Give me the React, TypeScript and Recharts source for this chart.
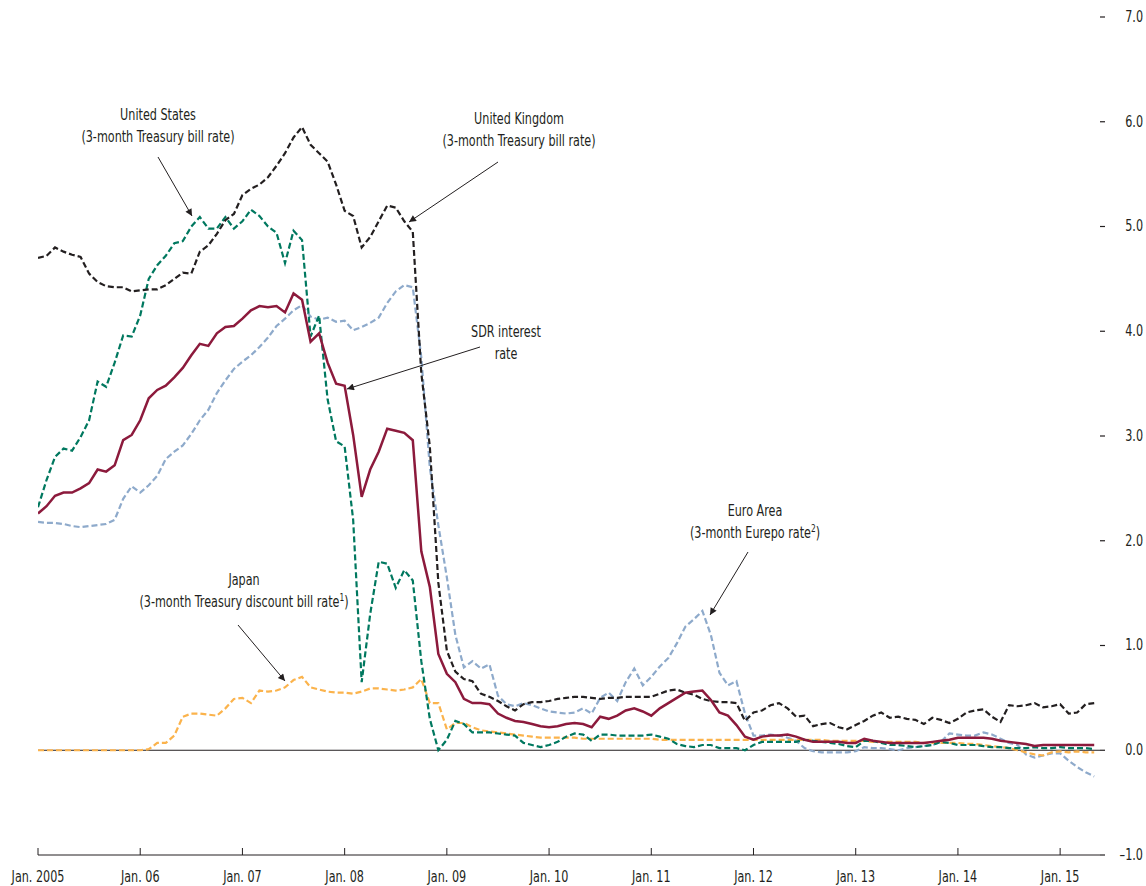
import React from 'react'
import { LineChart, Line, XAxis, YAxis, ReferenceLine } from 'recharts'

const FONT = "'DejaVu Sans Condensed', 'DejaVu Sans', sans-serif"
const INK = '#231f20'
const SQUEEZE = 0.83
const DASH = '6 3'

const YEAR_TICKS = [2005, 2006, 2007, 2008, 2009, 2010, 2011, 2012, 2013, 2014, 2015]
const YEAR_LABELS = ['Jan. 2005', 'Jan. 06', 'Jan. 07', 'Jan. 08', 'Jan. 09', 'Jan. 10', 'Jan. 11', 'Jan. 12', 'Jan. 13', 'Jan. 14', 'Jan. 15']
const RATE_TICKS = [-1, 0, 1, 2, 3, 4, 5, 6, 7]
const RATE_LABELS = ['–1.0', '0.0', '1.0', '2.0', '3.0', '4.0', '5.0', '6.0', '7.0']

// monthly values, Jan. 2005 – May 2015, percent
const unitedKingdom = [
  4.70, 4.72, 4.80, 4.76, 4.73, 4.71, 4.55, 4.47, 4.43, 4.42, 4.42, 4.38,
  4.39, 4.40, 4.40, 4.44, 4.50, 4.56, 4.55, 4.76, 4.82, 4.93, 5.06, 5.12,
  5.30, 5.36, 5.40, 5.47, 5.58, 5.70, 5.85, 5.95, 5.78, 5.70, 5.62, 5.40,
  5.15, 5.10, 4.80, 4.90, 5.05, 5.20, 5.18, 5.05, 4.95, 3.60, 2.90, 1.60,
  0.95, 0.75, 0.68, 0.66, 0.54, 0.51, 0.47, 0.42, 0.38, 0.44, 0.46, 0.46,
  0.47, 0.49, 0.50, 0.51, 0.51, 0.50, 0.49, 0.50, 0.50, 0.51, 0.51, 0.51,
  0.51, 0.54, 0.57, 0.58, 0.55, 0.53, 0.49, 0.47, 0.46, 0.46, 0.45, 0.28,
  0.36, 0.38, 0.43, 0.45, 0.40, 0.32, 0.33, 0.23, 0.25, 0.26, 0.22, 0.20,
  0.24, 0.28, 0.33, 0.36, 0.31, 0.32, 0.30, 0.29, 0.25, 0.31, 0.29, 0.26,
  0.30, 0.36, 0.38, 0.39, 0.32, 0.27, 0.43, 0.42, 0.43, 0.45, 0.41, 0.42,
  0.44, 0.35, 0.36, 0.44, 0.45,
]

const unitedStates = [
  2.32, 2.58, 2.80, 2.88, 2.86, 2.99, 3.15, 3.52, 3.47, 3.70, 3.96, 3.95,
  4.15, 4.50, 4.63, 4.72, 4.84, 4.86, 5.00, 5.09, 4.98, 4.98, 5.09, 4.98,
  5.05, 5.16, 5.10, 5.00, 4.94, 4.65, 4.96, 4.87, 3.95, 4.15, 3.35, 2.95,
  2.90, 2.20, 0.65, 1.30, 1.80, 1.78, 1.55, 1.72, 1.62, 0.85, 0.30, 0.00,
  0.10, 0.28, 0.25, 0.17, 0.17, 0.17, 0.16, 0.15, 0.14, 0.07, 0.05, 0.03,
  0.05, 0.08, 0.13, 0.16, 0.15, 0.09, 0.15, 0.15, 0.14, 0.14, 0.14, 0.14,
  0.15, 0.13, 0.11, 0.06, 0.04, 0.03, 0.05, 0.05, 0.02, 0.02, 0.02, 0.00,
  0.05, 0.08, 0.08, 0.08, 0.08, 0.08, 0.10, 0.09, 0.08, 0.07, 0.06, 0.04,
  0.03, 0.09, 0.09, 0.07, 0.05, 0.05, 0.04, 0.03, 0.04, 0.05, 0.08, 0.07,
  0.05, 0.05, 0.05, 0.04, 0.03, 0.03, 0.02, 0.02, 0.02, 0.03, 0.02, 0.02,
  0.03, 0.02, 0.02, 0.02, 0.01,
]

const sdrRate = [
  2.26, 2.33, 2.43, 2.46, 2.46, 2.50, 2.55, 2.68, 2.66, 2.72, 2.96, 3.01,
  3.15, 3.36, 3.44, 3.48, 3.56, 3.65, 3.77, 3.88, 3.86, 3.98, 4.04, 4.05,
  4.12, 4.20, 4.24, 4.23, 4.24, 4.18, 4.36, 4.30, 3.90, 3.98, 3.70, 3.50,
  3.48, 3.01, 2.42, 2.68, 2.85, 3.07, 3.05, 3.03, 2.96, 1.90, 1.56, 0.92,
  0.73, 0.65, 0.49, 0.45, 0.45, 0.44, 0.35, 0.31, 0.28, 0.27, 0.25, 0.23,
  0.22, 0.23, 0.25, 0.26, 0.25, 0.22, 0.32, 0.30, 0.33, 0.38, 0.40, 0.37,
  0.33, 0.40, 0.45, 0.50, 0.55, 0.56, 0.57, 0.48, 0.36, 0.33, 0.24, 0.13,
  0.10, 0.13, 0.14, 0.14, 0.15, 0.13, 0.10, 0.08, 0.08, 0.08, 0.08, 0.07,
  0.07, 0.11, 0.09, 0.08, 0.07, 0.07, 0.07, 0.07, 0.07, 0.08, 0.09, 0.10,
  0.12, 0.12, 0.12, 0.12, 0.11, 0.09, 0.08, 0.07, 0.06, 0.04, 0.05, 0.05,
  0.05, 0.05, 0.05, 0.05, 0.05,
]

const euroArea = [
  2.18, 2.17, 2.17, 2.16, 2.14, 2.13, 2.14, 2.15, 2.16, 2.20, 2.40, 2.52,
  2.46, 2.53, 2.62, 2.78, 2.85, 2.91, 3.02, 3.15, 3.25, 3.41, 3.53, 3.64,
  3.71, 3.77, 3.85, 3.94, 4.05, 4.12, 4.20, 4.25, 4.14, 4.11, 4.13, 4.09,
  4.10, 4.01, 4.04, 4.08, 4.13, 4.27, 4.38, 4.44, 4.42, 3.75, 2.70, 2.15,
  1.65, 1.10, 0.79, 0.85, 0.78, 0.82, 0.52, 0.44, 0.42, 0.45, 0.43, 0.40,
  0.37, 0.36, 0.35, 0.36, 0.40, 0.35, 0.50, 0.55, 0.47, 0.65, 0.78, 0.62,
  0.70, 0.80, 0.88, 1.02, 1.18, 1.25, 1.33, 1.10, 0.74, 0.62, 0.66, 0.35,
  0.14, 0.14, 0.15, 0.14, 0.12, 0.09, 0.02, -0.01, -0.02, -0.02, -0.02, -0.02,
  -0.01, 0.03, 0.02, 0.02, 0.01, 0.00, 0.02, 0.03, 0.04, 0.05, 0.08, 0.16,
  0.15, 0.14, 0.14, 0.17, 0.15, 0.11, 0.07, 0.05, -0.04, -0.07, -0.05, -0.03,
  -0.03, -0.10, -0.16, -0.21, -0.25,
]

const japan = [
  0.00, 0.00, 0.00, 0.00, 0.00, 0.00, 0.00, 0.00, 0.00, 0.00, 0.00, 0.00,
  0.00, 0.01, 0.07, 0.07, 0.14, 0.32, 0.35, 0.35, 0.34, 0.33, 0.40, 0.49,
  0.50, 0.45, 0.57, 0.56, 0.57, 0.60, 0.67, 0.70, 0.60, 0.58, 0.56, 0.55,
  0.55, 0.54, 0.56, 0.59, 0.59, 0.58, 0.57, 0.58, 0.60, 0.68, 0.45, 0.45,
  0.20, 0.26, 0.26, 0.22, 0.19, 0.18, 0.17, 0.16, 0.15, 0.14, 0.13, 0.12,
  0.12, 0.12, 0.12, 0.12, 0.11, 0.11, 0.11, 0.11, 0.11, 0.11, 0.11, 0.11,
  0.11, 0.10, 0.10, 0.10, 0.10, 0.10, 0.10, 0.10, 0.10, 0.10, 0.10, 0.10,
  0.10, 0.10, 0.10, 0.10, 0.10, 0.10, 0.10, 0.10, 0.10, 0.09, 0.09, 0.09,
  0.09, 0.09, 0.08, 0.08, 0.08, 0.08, 0.08, 0.08, 0.07, 0.07, 0.07, 0.07,
  0.07, 0.06, 0.06, 0.05, 0.04, 0.03, 0.02, 0.00, -0.02, -0.04, -0.05, -0.02,
  -0.01, -0.02, -0.01, -0.02, -0.02,
]

const data = unitedKingdom.map((_, i) => ({
  t: 2005 + i / 12,
  uk: unitedKingdom[i],
  us: unitedStates[i],
  sdr: sdrRate[i],
  euro: euroArea[i],
  japan: japan[i],
}))

// narrow the condensed font around a given x so it reads like the original
const squeeze = (x: number) => `translate(${x},0) scale(${SQUEEZE},1) translate(${-x},0)`

const XTick = ({ x, y, payload }: any) => {
  const i = YEAR_TICKS.indexOf(payload.value)
  return (
    <g>
      <line x1={x} x2={x} y1={y - 7} y2={y} stroke={INK} strokeWidth={1} />
      <text x={x} y={y + 27} transform={squeeze(x)} textAnchor="middle" fontFamily={FONT} fontSize={15} fill={INK}>
        {YEAR_LABELS[i]}
      </text>
    </g>
  )
}

const RightTick = ({ x, y, payload }: any) => {
  const i = RATE_TICKS.indexOf(payload.value)
  return (
    <g>
      <line x1={x} x2={x + 5} y1={y} y2={y} stroke={INK} strokeWidth={1.2} />
      <text x={x + 43} y={y + 5} transform={squeeze(x + 43)} textAnchor="end" fontFamily={FONT} fontSize={15} fill={INK}>
        {RATE_LABELS[i]}
      </text>
    </g>
  )
}

const LeftTick = ({ x, y }: any) => (
  <line x1={x - 5} x2={x} y1={y} y2={y} stroke={INK} strokeWidth={1.2} />
)

const Note = ({ x, y, lines }: { x: number; y: number; lines: React.ReactNode[] }) => (
  <text x={x} y={y} transform={squeeze(x)} textAnchor="middle" fontFamily={FONT} fontSize={15} fill={INK}>
    {lines.map((l, i) => (
      <tspan key={i} x={x} dy={i === 0 ? 0 : 22}>
        {l}
      </tspan>
    ))}
  </text>
)

const Arrow = ({ x1, y1, x2, y2 }: { x1: number; y1: number; x2: number; y2: number }) => (
  <line x1={x1} y1={y1} x2={x2} y2={y2} stroke={INK} strokeWidth={1} markerEnd="url(#head)" />
)

export default function App() {
  return (
    <div style={{ position: 'absolute', left: 0, top: 0, width: 1146, height: 886, background: '#fff' }}>
      <LineChart width={1146} height={886} data={data} margin={{ top: 17, right: 0, bottom: 0, left: 38 }}>
        <XAxis
          dataKey="t"
          type="number"
          domain={[2005, 2015.39]}
          ticks={YEAR_TICKS}
          allowDataOverflow
          height={31}
          tickSize={0}
          tickMargin={0}
          tickLine={false}
          axisLine={{ stroke: INK, strokeWidth: 1 }}
          tick={<XTick />}
        />
        <YAxis
          yAxisId="left"
          orientation="left"
          width={0}
          domain={[-1, 7]}
          ticks={RATE_TICKS}
          tickSize={0}
          tickMargin={0}
          tickLine={false}
          axisLine={false}
          tick={<LeftTick />}
        />
        <YAxis
          yAxisId="right"
          orientation="right"
          width={46}
          domain={[-1, 7]}
          ticks={RATE_TICKS}
          tickSize={0}
          tickMargin={0}
          tickLine={false}
          axisLine={false}
          tick={<RightTick />}
        />
        <ReferenceLine yAxisId="right" y={0} stroke={INK} strokeWidth={1} />
        <Line yAxisId="right" dataKey="euro" stroke="#8eaacb" strokeWidth={2.2} strokeDasharray={DASH} dot={false} isAnimationActive={false} />
        <Line yAxisId="right" dataKey="japan" stroke="#fbb34c" strokeWidth={2.2} strokeDasharray={DASH} dot={false} isAnimationActive={false} />
        <Line yAxisId="right" dataKey="us" stroke="#00785f" strokeWidth={2.2} strokeDasharray={DASH} dot={false} isAnimationActive={false} />
        <Line yAxisId="right" dataKey="uk" stroke={INK} strokeWidth={2.2} strokeDasharray={DASH} dot={false} isAnimationActive={false} />
        <Line yAxisId="right" dataKey="sdr" stroke="#8c1a3c" strokeWidth={2.5} dot={false} isAnimationActive={false} />
      </LineChart>

      <svg width={1146} height={886} style={{ position: 'absolute', left: 0, top: 0, pointerEvents: 'none' }}>
        <defs>
          <marker id="head" viewBox="0 0 10 10" refX="10" refY="5" markerWidth="9" markerHeight="7" orient="auto" markerUnits="userSpaceOnUse">
            <path d="M0,0 L10,5 L0,10 z" fill={INK} />
          </marker>
        </defs>
        <Note x={158} y={120} lines={['United States', '(3-month Treasury bill rate)']} />
        <Arrow x1={158} y1={157} x2={192} y2={216} />
        <Note x={519} y={124} lines={['United Kingdom', '(3-month Treasury bill rate)']} />
        <Arrow x1={498} y1={162} x2={409} y2={222} />
        <Note x={506} y={337} lines={['SDR interest', 'rate']} />
        <Arrow x1={480} y1={347} x2={347} y2={389} />
        <Note
          x={755}
          y={516}
          lines={[
            'Euro Area',
            <>
              (3-month Eurepo rate
              <tspan fontSize={10} dy={-6}>2</tspan>
              <tspan dy={6}>)</tspan>
            </>,
          ]}
        />
        <Arrow x1={748} y1={552} x2={710} y2={615} />
        <Note
          x={244}
          y={585}
          lines={[
            'Japan',
            <>
              (3-month Treasury discount bill rate
              <tspan fontSize={10} dy={-6}>1</tspan>
              <tspan dy={6}>)</tspan>
            </>,
          ]}
        />
        <Arrow x1={238} y1={625} x2={285} y2={681} />
      </svg>
    </div>
  )
}
